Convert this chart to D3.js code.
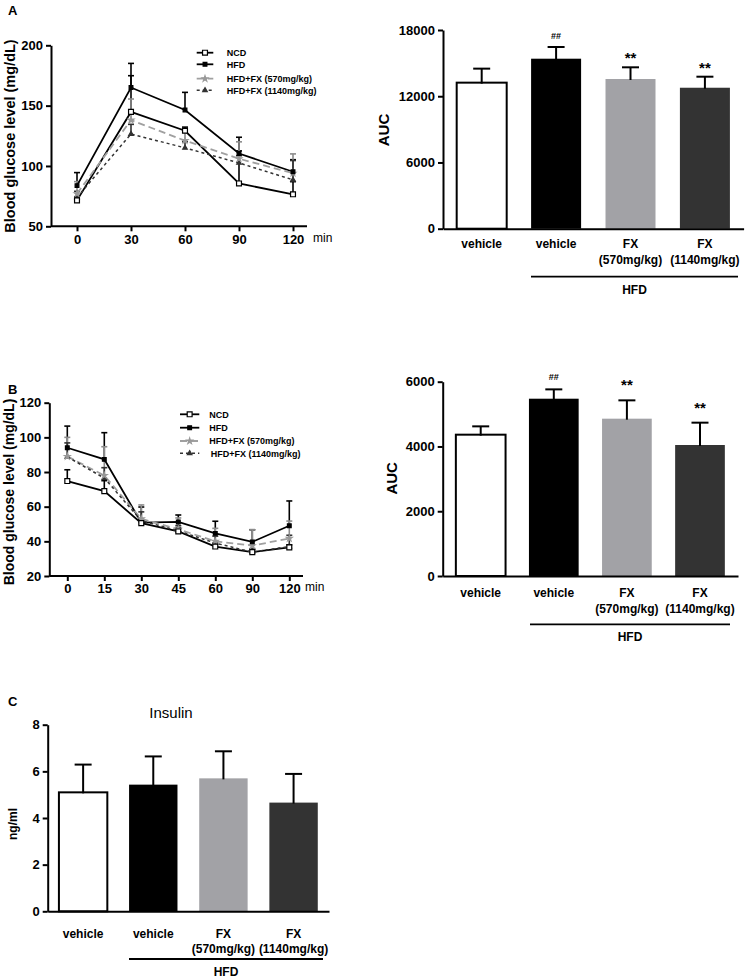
<!DOCTYPE html>
<html>
<head>
<meta charset="utf-8">
<script src="https://cdn.jsdelivr.net/npm/d3@7/dist/d3.min.js"></script>
<style>
  html, body { margin: 0; padding: 0; background: #fff; }
  svg text { font-family: "Liberation Sans", Arial, sans-serif; }
</style>
</head>
<body>
<svg id="chart" width="748" height="980"></svg>
<script>
// ---------------- DATA ----------------
const seriesNames = ["NCD", "HFD", "HFD+FX (570mg/kg)", "HFD+FX (1140mg/kg)"];

// Panel A: glucose tolerance (time in min)
const timesA = [0, 30, 60, 90, 120];
const A_NCD = [71.5, 144.8, 129.2, 85.5, 76.5];
const A_NCD_err = [3, 30, 3, 27, 10.5];
const A_HFD = [83.7, 165, 146.4, 110.3, 95.2];
const A_HFD_err = [10.8, 20, 14.6, 13.5, 10];
const A_FX570 = [77, 138, 121, 106, 94];
const A_FX570_err = [10, 17.5, 8, 14, 16];
const A_FX1140 = [74, 126.5, 115, 102.5, 88.5];
const A_FX1140_err = [5, 8, 5, 6, 16];
const yTicksA = [50, 100, 150, 200];

// Panel B: insulin tolerance
const timesB = ["0", "15", "30", "45", "60", "90", "120"];
const B_NCD = [74.8, 69, 50.5, 45.7, 37, 33.8, 36.5];
const B_NCD_err = [6.5, 6, 2, 2, 2, 1.5, 1.5];
const B_HFD = [94, 87.3, 50.8, 51.2, 44.6, 39.7, 49];
const B_HFD_err = [12.5, 15.4, 9, 4, 7, 7, 14.3];
const B_FX570 = [89, 78, 53, 47, 40, 37.5, 41.7];
const B_FX570_err = [11, 16.6, 8, 6.5, 7.5, 9.2, 10];
const B_FX1140 = [88.8, 76.5, 52, 46, 39, 33.8, 37];
const B_FX1140_err = [8, 6, 5, 3, 4, 2, 6.5];
const yTicksB = [20, 40, 60, 80, 100, 120];

// Bar groups
const groups = ["vehicle|", "vehicle", "FX|(570mg/kg)", "FX|(1140mg/kg)"];
const groupLabels = [["vehicle"], ["vehicle"], ["FX", "(570mg/kg)"], ["FX", "(1140mg/kg)"]];
const barColors = ["#ffffff", "#000000", "#a2a2a6", "#333333"];

const AUC_A = [13230, 15400, 13560, 12770];
const AUC_A_err = [1270, 1060, 1060, 1000];
const AUC_A_marks = ["", "##", "**", "**"];
const yTicksAUC_A = [0, 6000, 12000, 18000];

const AUC_B = [4364, 5475, 4858, 4045];
const AUC_B_err = [257, 288, 566, 690];
const AUC_B_marks = ["", "##", "**", "**"];
const yTicksAUC_B = [0, 2000, 4000, 6000];

const INS = [5.1, 5.43, 5.7, 4.66];
const INS_err = [1.19, 1.21, 1.16, 1.23];
const yTicksIns = [0, 2, 4, 6, 8];

// ---------------- DRAW ----------------
const svg = d3.select("#chart");
const FONT = '"Liberation Sans", Arial, sans-serif';
const fmt = d3.format("d");

const styles = [
  { color: "#000", dash: null, width: 1.8, sym: d3.symbolSquare, size: 24, fill: "#fff", stroke: "#000" },
  { color: "#000", dash: null, width: 1.8, sym: d3.symbolSquare, size: 14, fill: "#000", stroke: "#000" },
  { color: "#a0a0a0", dash: "7,4", width: 1.8, sym: d3.symbolStar, size: 10, fill: "#999", stroke: "#999" },
  { color: "#333", dash: "3,3", width: 1.5, sym: d3.symbolTriangle, size: 9, fill: "#333", stroke: "#333" }
];

function styleAxis(g, fs) {
  g.select(".domain").attr("stroke", "#000").attr("stroke-width", 2);
  g.selectAll(".tick line").attr("stroke", "#000").attr("stroke-width", 2);
  g.selectAll(".tick text").attr("font-family", FONT).attr("font-weight", "bold")
    .attr("font-size", fs).attr("fill", "#000");
}

function panelLabel(txt, x, y) {
  svg.append("text").attr("x", x).attr("y", y).text(txt)
    .attr("font-weight", "bold").attr("font-size", 13).attr("fill", "#000");
}

function lineChart(cfg) {
  const { x, y, series, errs, xVals, yTicks, axisX, axisY, axisEndX, ylab, ylabPos, ylabSize, minPos, legend } = cfg;
  const g = svg.append("g");
  const ya = g.append("g").attr("transform", `translate(${axisX},0)`)
    .call(d3.axisLeft(y).tickValues(yTicks).tickFormat(fmt).tickSize(5).tickSizeOuter(0).tickPadding(3));
  styleAxis(ya, 13);
  g.append("line").attr("x1", axisX).attr("x2", axisEndX).attr("y1", axisY).attr("y2", axisY)
    .attr("stroke", "#000").attr("stroke-width", 2);
  const xa = g.append("g").attr("transform", `translate(0,${axisY})`)
    .call(d3.axisBottom(x).tickValues(xVals).tickSize(5).tickSizeOuter(0).tickPadding(3));
  xa.select(".domain").remove();
  styleAxis(xa, 13);
  g.append("text").attr("x", minPos[0]).attr("y", minPos[1]).text("min")
    .attr("font-size", 12).attr("fill", "#000");
  g.append("text").attr("transform", `translate(${ylabPos[0]},${ylabPos[1]}) rotate(-90)`)
    .attr("text-anchor", "middle").attr("font-weight", "bold").attr("font-size", ylabSize)
    .text(ylab);

  // error bars
  series.forEach((s, si) => {
    const st = styles[si];
    const ec = si === 2 ? "#8c8c8c" : st.color;
    s.forEach((v, i) => {
      const xi = x(xVals[i]);
      const top = y(v + errs[si][i]);
      g.append("line").attr("x1", xi).attr("x2", xi).attr("y1", y(v)).attr("y2", top)
        .attr("stroke", ec).attr("stroke-width", 1.6);
      g.append("line").attr("x1", xi - 3).attr("x2", xi + 3).attr("y1", top).attr("y2", top)
        .attr("stroke", ec).attr("stroke-width", 1.6);
    });
  });
  // lines
  series.forEach((s, si) => {
    const st = styles[si];
    const line = d3.line().x((d, i) => x(xVals[i])).y(d => y(d));
    g.append("path").datum(s).attr("d", line).attr("fill", "none")
      .attr("stroke", st.color).attr("stroke-width", st.width)
      .attr("stroke-dasharray", st.dash);
  });
  // markers
  [3, 2, 1, 0].forEach(si => {
    const st = styles[si];
    series[si].forEach((v, i) => {
      g.append("path").attr("d", d3.symbol().type(st.sym).size(st.size)())
        .attr("transform", `translate(${x(xVals[i])},${y(v)})`)
        .attr("fill", st.fill).attr("stroke", st.stroke).attr("stroke-width", 1.2);
    });
  });
  // legend
  seriesNames.forEach((nm, si) => {
    const st = styles[si];
    const ly = legend.rows[si];
    g.append("line").attr("x1", legend.x1).attr("x2", legend.x2).attr("y1", ly).attr("y2", ly)
      .attr("stroke", st.color).attr("stroke-width", st.width).attr("stroke-dasharray", st.dash);
    g.append("path").attr("d", d3.symbol().type(st.sym).size(st.size)())
      .attr("transform", `translate(${(legend.x1 + legend.x2) / 2},${ly})`)
      .attr("fill", st.fill).attr("stroke", st.stroke).attr("stroke-width", 1.2);
    g.append("text").attr("x", legend.tx[si]).attr("y", ly + 3.2).text(nm)
      .attr("font-weight", "bold").attr("font-size", 9).attr("fill", "#000");
  });
}

function barChart(cfg) {
  const { x, y, vals, errs, marks, yTicks, axisX, ylab, ylabPos, ylabSize, labY, hfdLine, hfdY, starOff, hashOff } = cfg;
  const g = svg.append("g");
  vals.forEach((v, i) => {
    const gx = x(groups[i]);
    g.append("rect").attr("x", gx).attr("y", y(v)).attr("width", x.bandwidth())
      .attr("height", y(0) - y(v)).attr("fill", barColors[i])
      .attr("stroke", i === 0 ? "#000" : "none").attr("stroke-width", 2);
    const cx = gx + x.bandwidth() / 2;
    const top = y(v + errs[i]);
    g.append("line").attr("x1", cx).attr("x2", cx).attr("y1", y(v) + 1).attr("y2", top)
      .attr("stroke", "#000").attr("stroke-width", 2);
    g.append("line").attr("x1", cx - 8.5).attr("x2", cx + 8.5).attr("y1", top).attr("y2", top)
      .attr("stroke", "#000").attr("stroke-width", 2);
    if (marks && marks[i]) {
      const isHash = marks[i] === "##";
      g.append("text").attr("x", cx).attr("y", top - (isHash ? hashOff : starOff)).text(marks[i])
        .attr("text-anchor", "middle").attr("font-size", isHash ? 9 : 15)
        .attr("font-weight", "bold").attr("fill", "#000");
    }
  });
  const ya = g.append("g").attr("transform", `translate(${axisX},0)`)
    .call(d3.axisLeft(y).tickValues(yTicks).tickFormat(fmt).tickSize(5).tickSizeOuter(0).tickPadding(3));
  styleAxis(ya, 13);
  const xa = g.append("g").attr("transform", `translate(0,${y(0)})`)
    .call(d3.axisBottom(x).tickSize(0).tickSizeOuter(0).tickFormat(""));
  styleAxis(xa, 12);
  groups.forEach((k, i) => {
    const cx = x(k) + x.bandwidth() / 2;
    groupLabels[i].forEach((t, li) => {
      g.append("text").attr("x", cx).attr("y", labY + li * 15.5).text(t)
        .attr("text-anchor", "middle").attr("font-weight", "bold").attr("font-size", 12)
        .attr("fill", "#000");
    });
  });
  g.append("line").attr("x1", hfdLine[0]).attr("x2", hfdLine[1]).attr("y1", hfdLine[2]).attr("y2", hfdLine[2])
    .attr("stroke", "#000").attr("stroke-width", 1.8);
  g.append("text").attr("x", (hfdLine[0] + hfdLine[1]) / 2).attr("y", hfdY).text("HFD")
    .attr("text-anchor", "middle").attr("font-weight", "bold").attr("font-size", 12).attr("fill", "#000");
  g.append("text").attr("transform", `translate(${ylabPos[0]},${ylabPos[1]}) rotate(-90)`)
    .attr("text-anchor", "middle").attr("font-weight", "bold").attr("font-size", ylabSize)
    .text(ylab);
  return g;
}

// ---- Panel A line ----
panelLabel("A", 8, 15);
lineChart({
  x: d3.scaleLinear().domain([0, 120]).range([77, 293]),
  y: d3.scaleLinear().domain([50, 200]).range([226.3, 45.3]),
  series: [A_NCD, A_HFD, A_FX570, A_FX1140],
  errs: [A_NCD_err, A_HFD_err, A_FX570_err, A_FX1140_err],
  xVals: timesA, yTicks: yTicksA,
  axisX: 51, axisY: 226.3, axisEndX: 307,
  ylab: "Blood glucose level (mg/dL)", ylabPos: [14.5, 136], ylabSize: 14.5,
  minPos: [313, 242],
  legend: { x1: 196.7, x2: 213.3, rows: [52.7, 64.3, 78.7, 90.3], tx: [226.7, 226.7, 226.7, 226.7] }
});

// ---- Panel A AUC ----
barChart({
  x: d3.scaleBand().domain(groups).range([443, 743.6]).paddingInner(0.328).paddingOuter(0.184),
  y: d3.scaleLinear().domain([0, 18000]).range([228.7, 30]),
  vals: AUC_A, errs: AUC_A_err, marks: AUC_A_marks, starOff: 4, hashOff: 8,
  yTicks: yTicksAUC_A, axisX: 443,
  ylab: "AUC", ylabPos: [388.5, 130], ylabSize: 15,
  labY: 248, hfdLine: [531, 738, 276.7], hfdY: 294
});

// ---- Panel B line ----
panelLabel("B", 8, 394);
lineChart({
  x: d3.scalePoint().domain(timesB).range([67.3, 289.3]),
  y: d3.scaleLinear().domain([20, 120]).range([576, 402.7]),
  series: [B_NCD, B_HFD, B_FX570, B_FX1140],
  errs: [B_NCD_err, B_HFD_err, B_FX570_err, B_FX1140_err],
  xVals: timesB, yTicks: yTicksB,
  axisX: 49.3, axisY: 576, axisEndX: 303,
  ylab: "Blood glucose level (mg/dL)", ylabPos: [13.5, 492], ylabSize: 14,
  minPos: [305, 591],
  legend: { x1: 180, x2: 199.3, rows: [414.3, 427.7, 441, 453.3], tx: [209.3, 209.3, 209.3, 210.7] }
});

// ---- Panel B AUC ----
barChart({
  x: d3.scaleBand().domain(groups).range([442.7, 738]).paddingInner(0.32).paddingOuter(0.18),
  y: d3.scaleLinear().domain([0, 6000]).range([576, 381.7]),
  vals: AUC_B, errs: AUC_B_err, marks: AUC_B_marks, starOff: 10, hashOff: 9.4,
  yTicks: yTicksAUC_B, axisX: 442.7,
  ylab: "AUC", ylabPos: [397.3, 478.3], ylabSize: 15,
  labY: 597, hfdLine: [530, 730, 624.3], hfdY: 641
});

// ---- Panel C insulin ----
panelLabel("C", 8, 706);
svg.append("text").attr("x", 171).attr("y", 718).text("Insulin")
  .attr("text-anchor", "middle").attr("font-size", 15).attr("fill", "#000");
barChart({
  x: d3.scaleBand().domain(groups).range([47.7, 329]).paddingInner(0.31).paddingOuter(0.16),
  y: d3.scaleLinear().domain([0, 8]).range([911.3, 724.7]),
  vals: INS, errs: INS_err, marks: null, starOff: 4, hashOff: 8,
  yTicks: yTicksIns, axisX: 47.7,
  ylab: "ng/ml", ylabPos: [17, 824], ylabSize: 12,
  labY: 937.5, hfdLine: [129, 323, 959], hfdY: 976
});
</script>
</body>
</html>
